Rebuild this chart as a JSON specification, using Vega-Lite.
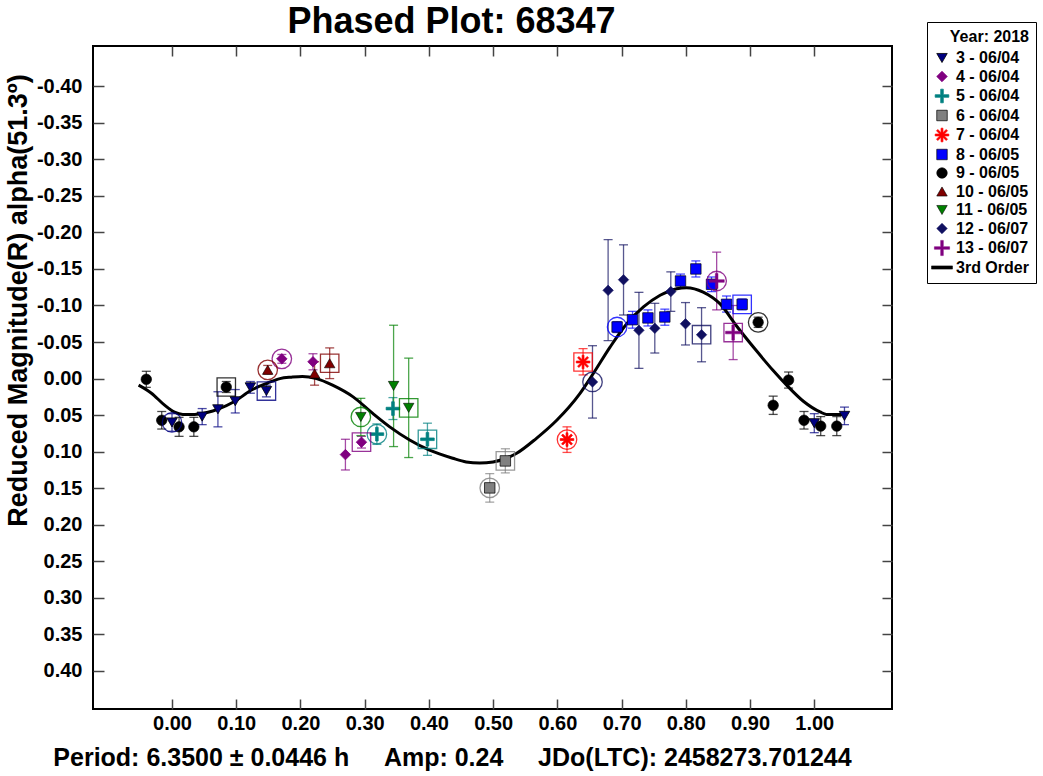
{
  "$schema": "https://vega.github.io/schema/vega-lite/v6.json",
  "width": 799,
  "height": 663,
  "autosize": "none",
  "padding": {"left": 93, "top": 46, "right": 151, "bottom": 67},
  "background": "white",
  "title": {"text": "Phased Plot: 68347", "font": "Liberation Sans", "fontSize": 36, "fontWeight": "bold", "color": "black", "anchor": "middle", "dx": -41, "dy": 27, "offset": 8},
  "config": {
    "view": {"stroke": "black", "strokeWidth": 2},
    "axis": {"domain": false, "grid": false, "tickColor": "#444", "tickWidth": 1.5, "labelFont": "Liberation Sans", "labelFontWeight": "bold", "labelColor": "black", "titleFont": "Liberation Sans", "titleFontWeight": "bold", "titleColor": "black"},
    "legend": {"strokeColor": "black", "fillColor": "white", "padding": 7, "cornerRadius": 0, "titleFont": "Liberation Sans", "titleFontSize": 16, "titleFontWeight": "bold", "titleColor": "black", "labelFont": "Liberation Sans", "labelFontSize": 16, "labelFontWeight": "bold", "labelColor": "black", "rowPadding": 2.5, "symbolSize": 110, "labelOffset": 6, "titleAnchor": "end"}
  },
  "datasets": {
    "obs": [
      {"s": "3 - 06/04", "p": 0.000, "m": 0.060, "lo": 0.048, "hi": 0.072, "r": "c"},
      {"s": "3 - 06/04", "p": 0.047, "m": 0.052, "lo": 0.041, "hi": 0.063, "r": ""},
      {"s": "3 - 06/04", "p": 0.0715, "m": 0.042, "lo": 0.018, "hi": 0.066, "r": ""},
      {"s": "3 - 06/04", "p": 0.0985, "m": 0.031, "lo": 0.015, "hi": 0.047, "r": ""},
      {"s": "3 - 06/04", "p": 0.122, "m": 0.012, "lo": 0.004, "hi": 0.020, "r": ""},
      {"s": "3 - 06/04", "p": 0.147, "m": 0.017, "lo": 0.009, "hi": 0.025, "r": "s"},
      {"s": "3 - 06/04", "p": 1.000, "m": 0.061, "lo": 0.048, "hi": 0.074, "r": ""},
      {"s": "3 - 06/04", "p": 1.047, "m": 0.051, "lo": 0.039, "hi": 0.063, "r": ""},
      {"s": "4 - 06/04", "p": 0.171, "m": -0.027, "lo": -0.033, "hi": -0.021, "r": "c"},
      {"s": "4 - 06/04", "p": 0.2195, "m": -0.023, "lo": -0.034, "hi": -0.012, "r": ""},
      {"s": "4 - 06/04", "p": 0.270, "m": 0.104, "lo": 0.083, "hi": 0.125, "r": ""},
      {"s": "4 - 06/04", "p": 0.295, "m": 0.087, "lo": 0.079, "hi": 0.095, "r": "s"},
      {"s": "5 - 06/04", "p": 0.319, "m": 0.076, "lo": 0.062, "hi": 0.090, "r": "c"},
      {"s": "5 - 06/04", "p": 0.344, "m": 0.041, "lo": 0.026, "hi": 0.056, "r": ""},
      {"s": "5 - 06/04", "p": 0.3977, "m": 0.083, "lo": 0.061, "hi": 0.105, "r": "s"},
      {"s": "6 - 06/04", "p": 0.4947, "m": 0.1495, "lo": 0.130, "hi": 0.169, "r": "c"},
      {"s": "6 - 06/04", "p": 0.519, "m": 0.1126, "lo": 0.096, "hi": 0.129, "r": "s"},
      {"s": "7 - 06/04", "p": 0.615, "m": 0.0834, "lo": 0.066, "hi": 0.101, "r": "c"},
      {"s": "7 - 06/04", "p": 0.640, "m": -0.0227, "lo": -0.041, "hi": -0.005, "r": "s"},
      {"s": "8 - 06/05", "p": 0.693, "m": -0.0706, "lo": -0.078, "hi": -0.063, "r": "c"},
      {"s": "8 - 06/05", "p": 0.717, "m": -0.0806, "lo": -0.092, "hi": -0.069, "r": ""},
      {"s": "8 - 06/05", "p": 0.741, "m": -0.083, "lo": -0.094, "hi": -0.072, "r": ""},
      {"s": "8 - 06/05", "p": 0.7673, "m": -0.0843, "lo": -0.095, "hi": -0.073, "r": ""},
      {"s": "8 - 06/05", "p": 0.7917, "m": -0.1335, "lo": -0.143, "hi": -0.124, "r": ""},
      {"s": "8 - 06/05", "p": 0.8156, "m": -0.150, "lo": -0.161, "hi": -0.139, "r": ""},
      {"s": "8 - 06/05", "p": 0.840, "m": -0.129, "lo": -0.139, "hi": -0.119, "r": ""},
      {"s": "8 - 06/05", "p": 0.8634, "m": -0.1016, "lo": -0.113, "hi": -0.091, "r": ""},
      {"s": "8 - 06/05", "p": 0.8877, "m": -0.1016, "lo": -0.109, "hi": -0.094, "r": "s"},
      {"s": "9 - 06/05", "p": -0.040, "m": 0.001, "lo": -0.010, "hi": 0.012, "r": ""},
      {"s": "9 - 06/05", "p": -0.016, "m": 0.057, "lo": 0.045, "hi": 0.069, "r": ""},
      {"s": "9 - 06/05", "p": 0.011, "m": 0.066, "lo": 0.053, "hi": 0.079, "r": ""},
      {"s": "9 - 06/05", "p": 0.034, "m": 0.066, "lo": 0.053, "hi": 0.079, "r": ""},
      {"s": "9 - 06/05", "p": 0.0845, "m": 0.0115, "lo": 0.004, "hi": 0.019, "r": "s"},
      {"s": "9 - 06/05", "p": 0.9126, "m": -0.077, "lo": -0.084, "hi": -0.070, "r": "c"},
      {"s": "9 - 06/05", "p": 0.936, "m": 0.0365, "lo": 0.024, "hi": 0.049, "r": ""},
      {"s": "9 - 06/05", "p": 0.960, "m": 0.002, "lo": -0.009, "hi": 0.013, "r": ""},
      {"s": "9 - 06/05", "p": 0.984, "m": 0.057, "lo": 0.045, "hi": 0.069, "r": ""},
      {"s": "9 - 06/05", "p": 1.010, "m": 0.065, "lo": 0.052, "hi": 0.078, "r": ""},
      {"s": "9 - 06/05", "p": 1.035, "m": 0.065, "lo": 0.052, "hi": 0.078, "r": ""},
      {"s": "10 - 06/05", "p": 0.149, "m": -0.012, "lo": -0.018, "hi": -0.006, "r": "c"},
      {"s": "10 - 06/05", "p": 0.222, "m": -0.007, "lo": -0.023, "hi": 0.009, "r": ""},
      {"s": "10 - 06/05", "p": 0.2455, "m": -0.021, "lo": -0.042, "hi": 0.000, "r": "s"},
      {"s": "11 - 06/05", "p": 0.294, "m": 0.0525, "lo": 0.027, "hi": 0.078, "r": "c"},
      {"s": "11 - 06/05", "p": 0.345, "m": 0.010, "lo": -0.073, "hi": 0.093, "r": ""},
      {"s": "11 - 06/05", "p": 0.3685, "m": 0.040, "lo": -0.028, "hi": 0.108, "r": "s"},
      {"s": "12 - 06/07", "p": 0.6547, "m": 0.0046, "lo": -0.045, "hi": 0.054, "r": "c"},
      {"s": "12 - 06/07", "p": 0.679, "m": -0.1207, "lo": -0.190, "hi": -0.052, "r": ""},
      {"s": "12 - 06/07", "p": 0.703, "m": -0.1353, "lo": -0.183, "hi": -0.087, "r": ""},
      {"s": "12 - 06/07", "p": 0.727, "m": -0.066, "lo": -0.118, "hi": -0.014, "r": ""},
      {"s": "12 - 06/07", "p": 0.7517, "m": -0.0688, "lo": -0.103, "hi": -0.035, "r": ""},
      {"s": "12 - 06/07", "p": 0.7766, "m": -0.119, "lo": -0.146, "hi": -0.092, "r": ""},
      {"s": "12 - 06/07", "p": 0.7995, "m": -0.075, "lo": -0.104, "hi": -0.046, "r": ""},
      {"s": "12 - 06/07", "p": 0.8245, "m": -0.060, "lo": -0.097, "hi": -0.023, "r": "s"},
      {"s": "13 - 06/07", "p": 0.848, "m": -0.1335, "lo": -0.173, "hi": -0.094, "r": "c"},
      {"s": "13 - 06/07", "p": 0.8737, "m": -0.063, "lo": -0.100, "hi": -0.026, "r": "s"}
    ],
    "fit": [
      {"p": -0.052, "m": 0.009}, {"p": -0.032, "m": 0.020}, {"p": -0.012, "m": 0.036}, {"p": 0.004, "m": 0.046},
      {"p": 0.017, "m": 0.049}, {"p": 0.035, "m": 0.049}, {"p": 0.056, "m": 0.046}, {"p": 0.071, "m": 0.042},
      {"p": 0.098, "m": 0.031}, {"p": 0.123, "m": 0.016}, {"p": 0.149, "m": 0.006}, {"p": 0.168, "m": 0.000},
      {"p": 0.186, "m": -0.002}, {"p": 0.203, "m": -0.003}, {"p": 0.225, "m": 0.000}, {"p": 0.250, "m": 0.009},
      {"p": 0.282, "m": 0.025}, {"p": 0.313, "m": 0.048}, {"p": 0.339, "m": 0.066}, {"p": 0.370, "m": 0.084},
      {"p": 0.401, "m": 0.098}, {"p": 0.437, "m": 0.109}, {"p": 0.458, "m": 0.114}, {"p": 0.479, "m": 0.1155},
      {"p": 0.500, "m": 0.114}, {"p": 0.536, "m": 0.1025}, {"p": 0.567, "m": 0.082}, {"p": 0.599, "m": 0.057},
      {"p": 0.635, "m": 0.0205}, {"p": 0.656, "m": -0.007}, {"p": 0.682, "m": -0.043}, {"p": 0.708, "m": -0.075},
      {"p": 0.734, "m": -0.098}, {"p": 0.760, "m": -0.114}, {"p": 0.786, "m": -0.123}, {"p": 0.801, "m": -0.1244},
      {"p": 0.827, "m": -0.1184}, {"p": 0.853, "m": -0.1025}, {"p": 0.879, "m": -0.072}, {"p": 0.910, "m": -0.038},
      {"p": 0.936, "m": -0.011}, {"p": 0.957, "m": 0.009}, {"p": 0.983, "m": 0.031}, {"p": 1.009, "m": 0.0456},
      {"p": 1.019, "m": 0.049}, {"p": 1.050, "m": 0.049}
    ]
  },
  "resolve": {"axis": {"x": "independent", "y": "independent"}},
  "layer": [
    {
      "data": {"name": "obs"},
      "mark": {"type": "errorbar", "ticks": {"size": 9, "thickness": 1.3}, "thickness": 1.3},
      "encoding": {
        "x": {"field": "p", "type": "quantitative", "scale": {"domain": [-0.123, 1.121], "nice": false, "zero": false},
          "axis": {"orient": "bottom", "values": [0, 0.1, 0.2, 0.3, 0.4, 0.5, 0.6, 0.7, 0.8, 0.9, 1.0], "format": ".2f", "tickSize": -10, "labelPadding": 14, "labelFontSize": 20,
            "title": "Period: 6.3500 ± 0.0446 h\u00a0\u00a0\u00a0\u00a0\u00a0Amp: 0.24\u00a0\u00a0\u00a0\u00a0\u00a0JDo(LTC): 2458273.701244", "titleFontSize": 25, "titleX": 359, "titleY": 48, "titleBaseline": "middle", "titleAlign": "center"}},
        "y": {"field": "lo", "type": "quantitative", "scale": {"domain": [-0.455, 0.452], "reverse": true, "nice": false, "zero": false},
          "axis": {"orient": "left", "values": [-0.4, -0.35, -0.3, -0.25, -0.2, -0.15, -0.1, -0.05, 0, 0.05, 0.1, 0.15, 0.2, 0.25, 0.3, 0.35, 0.4], "labelExpr": "(datum.value < -0.0001 ? '-' : '') + format(abs(datum.value), '.2f')", "tickSize": -11, "labelPadding": 22, "labelFontSize": 20,
            "title": "Reduced Magnitude(R) alpha(51.3º)", "titleFontSize": 27, "titleX": -75, "titleY": 254, "titleAngle": -90, "titleBaseline": "middle", "titleAlign": "center"}},
        "y2": {"field": "hi"},
        "color": {"field": "s", "type": "nominal", "legend": null,
          "scale": {"domain": ["3 - 06/04", "4 - 06/04", "5 - 06/04", "6 - 06/04", "7 - 06/04", "8 - 06/05", "9 - 06/05", "10 - 06/05", "11 - 06/05", "12 - 06/07", "13 - 06/07"],
            "range": ["#000080", "#800080", "#008080", "#808080", "#ff0000", "#0000ff", "#000000", "#800000", "#008000", "#101060", "#800080"]}},
        "opacity": {"value": 0.7}
      }
    },
    {
      "data": {"name": "fit"},
      "mark": {"type": "line", "color": "black", "strokeWidth": 3, "interpolate": "monotone"},
      "encoding": {
        "x": {"field": "p", "type": "quantitative", "axis": {"orient": "top", "values": [0, 0.1, 0.2, 0.3, 0.4, 0.5, 0.6, 0.7, 0.8, 0.9, 1.0], "labels": false, "tickSize": -10, "title": null}},
        "y": {"field": "m", "type": "quantitative", "axis": {"orient": "right", "values": [-0.4, -0.35, -0.3, -0.25, -0.2, -0.15, -0.1, -0.05, 0, 0.05, 0.1, 0.15, 0.2, 0.25, 0.3, 0.35, 0.4], "labels": false, "tickSize": -10, "title": null}}
      }
    },
    {
      "data": {"name": "obs"},
      "mark": {"type": "point", "filled": true, "size": 110, "opacity": 1},
      "encoding": {
        "x": {"field": "p", "type": "quantitative", "axis": null},
        "y": {"field": "m", "type": "quantitative", "axis": null},
        "fill": {"field": "s", "type": "nominal", "title": "Year: 2018",
          "scale": {"domain": ["3 - 06/04", "4 - 06/04", "5 - 06/04", "6 - 06/04", "7 - 06/04", "8 - 06/05", "9 - 06/05", "10 - 06/05", "11 - 06/05", "12 - 06/07", "13 - 06/07", "3rd Order"],
            "range": ["#000080", "#800080", "#008080", "#808080", "#ff0000", "#0000ff", "#000000", "#800000", "#008000", "#101060", "#800080", "#000000"]},
          "legend": {"orient": "none", "legendX": 834, "legendY": -24}},
        "stroke": {"field": "s", "type": "nominal", "title": "Year: 2018",
          "scale": {"domain": ["3 - 06/04", "4 - 06/04", "5 - 06/04", "6 - 06/04", "7 - 06/04", "8 - 06/05", "9 - 06/05", "10 - 06/05", "11 - 06/05", "12 - 06/07", "13 - 06/07", "3rd Order"],
            "range": ["#000000", "#800080", "#008080", "#000000", "#ff0000", "#000000", "#000000", "#000000", "#000000", "#101060", "#800080", "#000000"]},
          "legend": {"orient": "none", "legendX": 834, "legendY": -24}},
        "strokeWidth": {"field": "s", "type": "ordinal", "title": "Year: 2018",
          "scale": {"domain": ["3 - 06/04", "4 - 06/04", "5 - 06/04", "6 - 06/04", "7 - 06/04", "8 - 06/05", "9 - 06/05", "10 - 06/05", "11 - 06/05", "12 - 06/07", "13 - 06/07", "3rd Order"],
            "range": [0.8, 0.5, 0.5, 3, 0.5, 1, 0.5, 0.8, 0.8, 0.5, 0.5, 0.5]},
          "legend": {"orient": "none", "legendX": 834, "legendY": -24}},
        "shape": {"field": "s", "type": "nominal", "title": "Year: 2018",
          "scale": {"domain": ["3 - 06/04", "4 - 06/04", "5 - 06/04", "6 - 06/04", "7 - 06/04", "8 - 06/05", "9 - 06/05", "10 - 06/05", "11 - 06/05", "12 - 06/07", "13 - 06/07", "3rd Order"],
            "range": ["triangle-down", "diamond", "M-1.3,-0.25H-0.25V-1.3H0.25V-0.25H1.3V0.25H0.25V1.3H-0.25V0.25H-1.3Z", "square", "M-0.18,-1.3H0.18V1.3H-0.18ZM-1.3,-0.18H1.3V0.18H-1.3ZM0.792,-1.047L1.047,-0.792L-0.792,1.047L-1.047,0.792ZM-1.047,-0.792L-0.792,-1.047L1.047,0.792L0.792,1.047Z", "square", "circle", "triangle-up", "triangle-down", "diamond", "M-1.45,-0.25H-0.25V-1.45H0.25V-0.25H1.45V0.25H0.25V1.45H-0.25V0.25H-1.45Z", "M-2,-0.3H2V0.3H-2Z"]},
          "legend": {"orient": "none", "legendX": 834, "legendY": -24}}
      }
    },
    {
      "data": {"name": "obs"},
      "transform": [{"filter": "datum.r == 'c'"}],
      "mark": {"type": "point", "shape": "circle", "filled": false, "size": 380, "strokeWidth": 1.3, "opacity": 0.8},
      "encoding": {
        "x": {"field": "p", "type": "quantitative", "axis": null},
        "y": {"field": "m", "type": "quantitative", "axis": null},
        "color": {"field": "s", "type": "nominal", "legend": null}
      }
    },
    {
      "data": {"name": "obs"},
      "transform": [{"filter": "datum.r == 's'"}],
      "mark": {"type": "point", "shape": "square", "filled": false, "size": 340, "strokeWidth": 1.3, "opacity": 0.8},
      "encoding": {
        "x": {"field": "p", "type": "quantitative", "axis": null},
        "y": {"field": "m", "type": "quantitative", "axis": null},
        "color": {"field": "s", "type": "nominal", "legend": null}
      }
    }
  ]
}
